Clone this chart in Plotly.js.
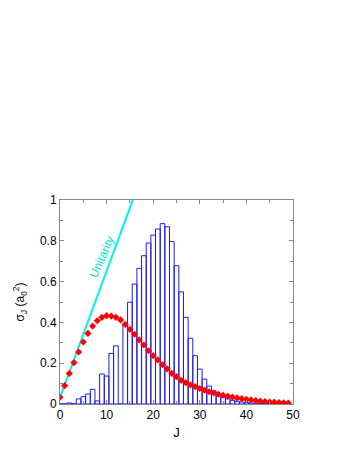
<!DOCTYPE html>
<html>
<head>
<meta charset="utf-8">
<script src="https://cdn.plot.ly/plotly-3.0.1.min.js"></script>
<style>html,body{margin:0;padding:0;background:#fff;}#chart{width:354px;height:458px;}</style>
</head>
<body>
<div id="chart"></div>
<script>
// Quantum numbers J
const J = [0,1,2,3,4,5,6,7,8,9,10,11,12,13,14,15,16,17,18,19,20,21,22,23,24,25,26,27,28,29,30,31,32,33,34,35,36,37,38,39,40,41,42,43,44,45,46,47,48,49];
// Histogram (blue bars)
const barValues = [0.001,0.001,0.005,0.001,0.025,0.036,0.049,0.072,0.015,0.147,0.137,0.248,0.285,0.0,0.39,0.499,0.588,0.665,0.727,0.789,0.828,0.858,0.884,0.869,0.796,0.678,0.55,0.425,0.322,0.237,0.171,0.122,0.088,0.065,0.046,0.033,0.025,0.018,0.013,0.01,0.007,0.005,0.004,0.003,0.002,0.001,0.001,0.001,0.0,0.0];
// Red points
const pointValues = [0.033,0.09,0.15,0.203,0.255,0.304,0.346,0.382,0.408,0.425,0.433,0.431,0.425,0.412,0.39,0.366,0.342,0.314,0.289,0.261,0.237,0.216,0.193,0.172,0.15,0.134,0.116,0.104,0.094,0.085,0.076,0.068,0.06,0.054,0.048,0.043,0.038,0.034,0.03,0.026,0.023,0.02,0.017,0.014,0.012,0.01,0.009,0.007,0.006,0.005];
// Unitarity limit line
const unitJ = [0, 16];
const unitSigma = [0.031, 1.023];
const xTicks = [0,10,20,30,40,50];
const yTicks = [0,0.2,0.4,0.6,0.8,1];

const traces = [
  {type:'bar', x:J, y:barValues, width:1, marker:{color:'rgba(255,255,255,0)', line:{color:'#1a1aff', width:1}}, hoverinfo:'skip'},
  {type:'scatter', mode:'lines', x:unitJ, y:unitSigma, line:{color:'#00f0f0', width:2}},
  {type:'scatter', mode:'markers', x:J, y:pointValues, marker:{color:'#ff0000', symbol:'diamond', size:5.5}}
];

const axisCommon = {
  showgrid:false, zeroline:false, showline:true, linecolor:'#888', linewidth:1,
  mirror:'allticks', ticks:'inside', ticklen:4, tickcolor:'#888',
  tickfont:{family:'Liberation Sans, Arial, sans-serif', size:12, color:'#000'}
};

const layout = {
  width:354, height:458,
  margin:{l:60, r:61, t:200, b:54},
  paper_bgcolor:'#fff', plot_bgcolor:'#fff',
  showlegend:false, bargap:0,
  font:{family:'Liberation Sans, Arial, sans-serif', size:12, color:'#000'},
  xaxis: Object.assign({}, axisCommon, {
    range:[0,50], tickvals:xTicks, ticktext:xTicks.map(String),
    minor:{dtick:5, ticks:'inside', ticklen:3, tickcolor:'#888'},
    title:{text:'J', font:{size:13}, standoff:6}
  }),
  yaxis: Object.assign({}, axisCommon, {
    range:[0,1], tickvals:yTicks, ticktext:yTicks.map(String),
    minor:{dtick:0.1, ticks:'inside', ticklen:3, tickcolor:'#888'},
    title:{text:'σ<sub>J</sub> (a<sub>0</sub><sup>2</sup>)', font:{size:12}, standoff:12}
  }),
  annotations:[{
    x:9.0, y:0.72, xref:'x', yref:'y', text:'Unitarity', showarrow:false,
    textangle:-66, font:{color:'#00e0e0', size:12}
  }]
};

Plotly.newPlot('chart', traces, layout, {displayModeBar:false, staticPlot:true});
</script>
</body>
</html>
